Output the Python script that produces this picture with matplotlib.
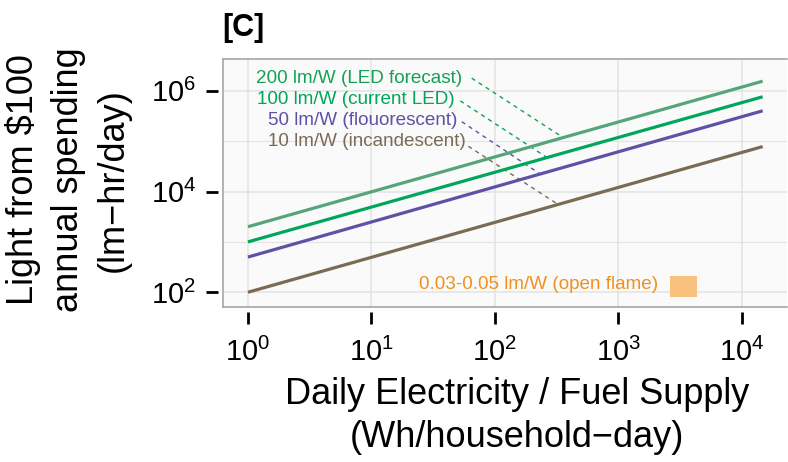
import numpy as np
import matplotlib
matplotlib.use('Agg')
import matplotlib.pyplot as plt
from matplotlib.patches import Rectangle
from matplotlib.ticker import NullFormatter

plt.rcParams['font.family'] = ['Liberation Sans', 'DejaVu Sans']
plt.rcParams['mathtext.fontset'] = 'custom'
plt.rcParams['mathtext.rm'] = 'Liberation Sans'
plt.rcParams['mathtext.it'] = 'Liberation Sans'

# 数据
supply_range = [1, 14800]                      # Wh/household-day
labels = ['200 lm/W (LED forecast)', '100 lm/W (current LED)',
          '50 lm/W (flouorescent)', '10 lm/W (incandescent)']
light_start = [2000, 1000, 500, 100]           # 在 x=1 处
light_end = [1.55e6, 7.6e5, 4.0e5, 7.8e4]      # 在 x=14800 处
line_colors = ['#56A57A', '#00A65A', '#5D52A6', '#7B6A55']
text_colors = ['#17A055', '#00A65A', '#5D52A6', '#7B6A55']

# 标签位置与引线
label_x = [54.4, 46.9, 49.6, 58.7]
label_y = [1.79e6, 6.7e5, 2.6e5, 1.0e5]
leader_from_x = [65, 52.5, 54, 61]
leader_from_y = [1.78e6, 6.3e5, 2.43e5, 7.9e4]
leader_to_x = [358, 265, 233, 326]

flame_label = '0.03-0.05 lm/W (open flame)'
flame_x = [2630, 4330]
flame_y = [81, 210]

fig = plt.figure(figsize=(7.88, 4.62), dpi=100)
ax = fig.add_axes([0.2826, 0.3355, 0.7161, 0.5368])
ax.set_facecolor('#FAFAFA')
ax.set_xscale('log')
ax.set_yscale('log')
ax.set_xlim(0.624, 23300)
ax.set_ylim(51, 4.27e6)

# 网格与刻度
ax.set_xticks([1, 10, 100, 1000, 10000])
ax.set_xticklabels(['$10^{%d}$' % i for i in range(5)])
ax.set_yticks([1e2, 1e4, 1e6])
ax.set_yticklabels(['$10^{2}$', '$10^{4}$', '$10^{6}$'])
ax.set_yticks([1e3, 1e5], minor=True)
ax.set_xticks([], minor=True)
ax.yaxis.set_minor_formatter(NullFormatter())
ax.grid(True, which='major', color='#E3E3E3', lw=1.1)
ax.grid(True, which='minor', axis='y', color='#E3E3E3', lw=0.8)
ax.set_axisbelow(True)
ax.tick_params(which='major', length=8.5, width=2, color='black', labelsize=21)
ax.tick_params(axis='x', pad=10)
ax.tick_params(axis='y', pad=7)
ax.tick_params(which='minor', length=0)
# 刻度线与边框之间留一点空隙（ggplot 风格）
for s in ['left', 'bottom']:
    ax.spines[s].set_position(('outward', 3.5))
    ax.spines[s].set_visible(False)
ax.spines['top'].set_visible(False)
ax.spines['right'].set_visible(False)
for xs, ys in [([0, 0], [0, 1]), ([0, 1], [1, 1]), ([0, 1], [0, 0])]:
    ax.plot(xs, ys, transform=ax.transAxes, color='#A6A6A6', lw=1.2,
            clip_on=False, zorder=5)

# 主线
for i in range(4):
    ax.plot(supply_range, [light_start[i], light_end[i]], color=line_colors[i], lw=2.3,
            solid_capstyle='butt', zorder=3)

# 标签 + 虚线
lx0, lx1 = np.log10(supply_range)
for i in range(4):
    ly0, ly1 = np.log10(light_start[i]), np.log10(light_end[i])
    tx = np.log10(leader_to_x[i])
    ty = 10 ** (ly0 + (ly1 - ly0) * (tx - lx0) / (lx1 - lx0))
    ax.plot([leader_from_x[i], leader_to_x[i]], [leader_from_y[i], ty],
            color=text_colors[i], lw=1, ls=(0, (3, 3)), zorder=2)
    ax.text(label_x[i], label_y[i], labels[i], color=text_colors[i],
            fontsize=13.6, ha='right', va='center')

# 明火
ax.add_patch(Rectangle((flame_x[0], flame_y[0]), flame_x[1] - flame_x[0],
                       flame_y[1] - flame_y[0], color='#F8C27E', lw=0, zorder=3))
ax.text(2104, 140, flame_label, color='#F0901F', fontsize=13.6, ha='right', va='center')

# 标题与轴标签
fig.text(222 / 788, 1 - 28 / 462, '[C]', fontsize=22, fontweight='bold', ha='left', va='center')
fig.text(67.5 / 788, 1 - 180 / 462, 'Light from $100\nannual spending\n(lm\u2212hr/day)',
         rotation=90, fontsize=26, ha='center', va='center', linespacing=1.37)
fig.text(517 / 788, 1 - 416 / 462, 'Daily Electricity / Fuel Supply\n(Wh/household\u2212day)',
         fontsize=26, ha='center', va='center', linespacing=1.28)

plt.savefig('out.png', dpi=100)
